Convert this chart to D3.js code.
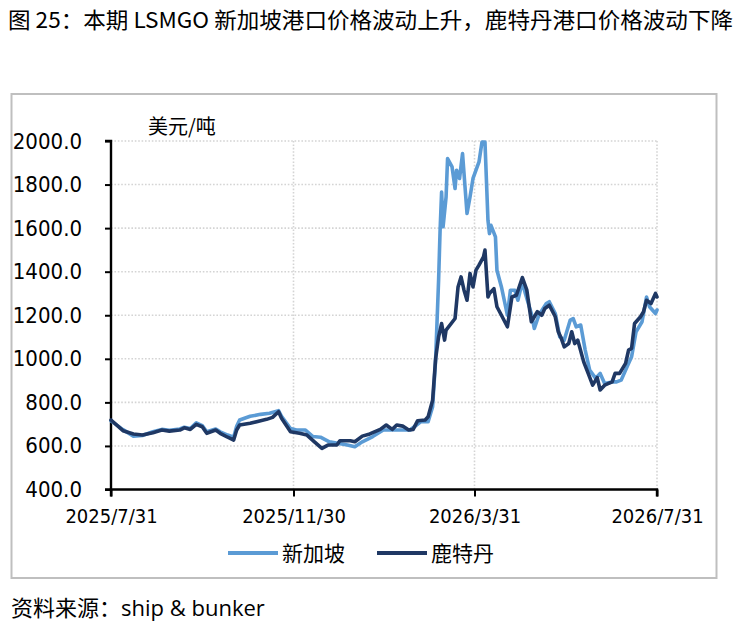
<!DOCTYPE html>
<html>
<head>
<meta charset="utf-8">
<script src="https://cdn.jsdelivr.net/npm/d3@7"></script>
<style>
  html,body{margin:0;padding:0;background:#fff;}
  svg{display:block;}
  .cjk{font-family:"Noto Sans CJK SC","Noto Sans",sans-serif;fill:#000;}
  .num{font-family:"Liberation Sans Narrow","DejaVu Sans Condensed","DejaVu Sans",sans-serif;font-stretch:condensed;fill:#000;}
  .src{font-family:"Open Sans","Noto Sans CJK SC",sans-serif;fill:#000;}
</style>
</head>
<body>
<svg id="chart" width="743" height="623"></svg>
<script>
// --- Data ---
const titleText = "图 25：本期 LSMGO 新加坡港口价格波动上升，鹿特丹港口价格波动下降";
const unitText = "美元/吨";
const sourceText = "资料来源：ship & bunker";
const seriesNames = ["新加坡", "鹿特丹"];
const seriesColors = ["#5b9bd5", "#1f3864"];

const xTicks = ["2025-07-31", "2025-11-30", "2026-03-31", "2026-07-31"];
const yTicks = [400, 600, 800, 1000, 1200, 1400, 1600, 1800, 2000];

// Singapore LSMGO
const sgDates = [
  "2025-07-31","2025-08-08","2025-08-15","2025-08-21","2025-08-28","2025-09-03","2025-09-08","2025-09-15",
  "2025-09-18","2025-09-22","2025-09-26","2025-09-30","2025-10-03","2025-10-09","2025-10-12","2025-10-17",
  "2025-10-21","2025-10-23","2025-10-25","2025-11-01","2025-11-08","2025-11-14","2025-11-20","2025-11-22",
  "2025-11-28","2025-12-02","2025-12-08","2025-12-13","2025-12-18","2025-12-24","2026-01-05","2026-01-10",
  "2026-01-15","2026-01-22","2026-01-29","2026-02-07","2026-02-16","2026-02-23","2026-02-28","2026-03-03",
  "2026-03-05","2026-03-07","2026-03-08","2026-03-09","2026-03-10","2026-03-12","2026-03-13","2026-03-16",
  "2026-03-18","2026-03-19","2026-03-21","2026-03-23","2026-03-26","2026-03-28","2026-03-30","2026-04-01",
  "2026-04-03","2026-04-05","2026-04-07","2026-04-09","2026-04-10","2026-04-11","2026-04-14","2026-04-15",
  "2026-04-18","2026-04-22","2026-04-24","2026-04-27","2026-04-29","2026-05-02","2026-05-04","2026-05-08",
  "2026-05-10","2026-05-13","2026-05-18","2026-05-20","2026-05-24","2026-05-27","2026-05-30","2026-06-03",
  "2026-06-05","2026-06-07","2026-06-10","2026-06-13","2026-06-16","2026-06-20","2026-06-23","2026-06-26",
  "2026-07-01","2026-07-04","2026-07-07","2026-07-11","2026-07-14","2026-07-17","2026-07-21","2026-07-24",
  "2026-07-26","2026-07-30","2026-07-31"
];
const sgValues = [
  715, 675, 645, 648, 665, 676, 672, 678,
  686, 680, 706, 693, 665, 678, 665, 650,
  640, 690, 719, 736, 745, 750, 762, 736,
  680, 673, 673, 643, 640, 619, 604, 596,
  619, 643, 673, 673, 673, 711, 711, 780,
  995, 1361, 1590, 1766, 1606, 1743, 1919, 1881,
  1782, 1866, 1828, 1942, 1667, 1743, 1828, 1866,
  1904, 1995, 1995, 1636, 1575, 1613, 1560, 1407,
  1330, 1200, 1315, 1315, 1269, 1353, 1300, 1208,
  1139, 1200, 1254, 1262, 1208, 1101, 1086, 1178,
  1185, 1147, 1155, 1040, 948, 910, 933, 887,
  894, 894, 902, 963, 1009, 1124, 1170, 1284,
  1239, 1208, 1224
];

// Rotterdam LSMGO
const rtDates = [
  "2025-07-31","2025-08-08","2025-08-15","2025-08-21","2025-08-28","2025-09-03","2025-09-08","2025-09-15",
  "2025-09-18","2025-09-22","2025-09-26","2025-09-30","2025-10-03","2025-10-09","2025-10-12","2025-10-17",
  "2025-10-21","2025-10-23","2025-10-25","2025-11-01","2025-11-08","2025-11-12","2025-11-16","2025-11-20",
  "2025-11-22","2025-11-28","2025-12-04","2025-12-09","2025-12-14","2025-12-19","2025-12-23","2025-12-29",
  "2025-12-31","2026-01-07","2026-01-10","2026-01-15","2026-01-20","2026-01-27","2026-01-31","2026-02-04",
  "2026-02-07","2026-02-11","2026-02-15","2026-02-18","2026-02-21","2026-02-26","2026-02-28","2026-03-03",
  "2026-03-05","2026-03-07","2026-03-09","2026-03-11","2026-03-12","2026-03-18","2026-03-20","2026-03-22",
  "2026-03-24","2026-03-26","2026-03-28","2026-03-30","2026-04-01","2026-04-03","2026-04-06","2026-04-07",
  "2026-04-09","2026-04-10","2026-04-13","2026-04-15","2026-04-18","2026-04-22","2026-04-25","2026-04-28",
  "2026-05-02","2026-05-05","2026-05-08","2026-05-12","2026-05-15","2026-05-17","2026-05-20","2026-05-24",
  "2026-05-26","2026-05-28","2026-05-30","2026-06-02","2026-06-04","2026-06-06","2026-06-08","2026-06-12",
  "2026-06-15","2026-06-18","2026-06-21","2026-06-23","2026-06-26","2026-07-01","2026-07-03","2026-07-06",
  "2026-07-10","2026-07-12","2026-07-14","2026-07-16","2026-07-20","2026-07-22","2026-07-24","2026-07-27",
  "2026-07-30","2026-07-31"
];
const rtValues = [
  719, 670, 655, 650, 661, 673, 668, 673,
  683, 676, 699, 688, 658, 673, 658, 640,
  627, 673, 696, 704, 716, 722, 731, 757,
  727, 665, 658, 650, 619, 589, 604, 604,
  624, 624, 619, 645, 655, 676, 696, 676,
  696, 691, 673, 676, 716, 719, 734, 810,
  1000, 1101, 1162, 1086, 1132, 1185, 1330, 1376,
  1315, 1269, 1392, 1330, 1407, 1430, 1468, 1499,
  1284, 1300, 1322, 1239, 1200, 1147, 1284, 1292,
  1373, 1315, 1170, 1216, 1200, 1231, 1246, 1193,
  1124, 1094, 1055, 1070, 1124, 1070, 1086, 986,
  933, 879, 914, 857, 879, 894, 933, 933,
  979, 1040, 1048, 1162, 1193, 1216, 1269, 1254,
  1300, 1284
];

// --- Layout ---
const svg = d3.select("#chart");
const W = 743, H = 623;
const P = {l:111, r:657, t:141, b:489.5};   // plot area
const parse = d3.utcParse("%Y-%m-%d");
const fmtDate = d3.utcFormat("%Y/%-m/%-d");

const x = d3.scaleUtc().domain([parse(xTicks[0]), parse(xTicks[xTicks.length-1])]).range([P.l, P.r]);
const y = d3.scaleLinear().domain([400, 2000]).range([P.b, P.t]);

// outer frame
svg.append("rect").attr("x", 11.5).attr("y", 94).attr("width", 705).attr("height", 484)
  .attr("fill", "none").attr("stroke", "#bfbfbf").attr("stroke-width", 2);

// title (fitted to the reference width)
svg.append("text").attr("class","cjk").attr("x", 8).attr("y", 28)
  .attr("textLength", 725).attr("lengthAdjust", "spacingAndGlyphs")
  .style("font-size","22px").text(titleText);

// grid
const grid = svg.append("g").attr("stroke", "#d4d4d4").attr("stroke-width", 1.6).attr("stroke-dasharray", "1.6,1.8");
grid.selectAll("line.h").data(yTicks.filter(v => v > 400)).enter().append("line").attr("class","h")
  .attr("x1", P.l).attr("x2", P.r + 1).attr("y1", d => y(d)).attr("y2", d => y(d));
grid.selectAll("line.v").data(xTicks.slice(1)).enter().append("line").attr("class","v")
  .attr("x1", d => x(parse(d))).attr("x2", d => x(parse(d))).attr("y1", P.t).attr("y2", P.b);

// axes
const gy = svg.append("g").attr("transform", `translate(${P.l},0)`)
  .call(d3.axisLeft(y).tickValues(yTicks).tickFormat(d3.format(".1f")).tickSize(6).tickPadding(23));
const gx = svg.append("g").attr("transform", `translate(0,${P.b})`)
  .call(d3.axisBottom(x).tickValues(xTicks.map(parse)).tickFormat(fmtDate).tickSize(7).tickPadding(12));
[gx, gy].forEach(g => {
  g.select(".domain").attr("stroke", "#000").attr("stroke-width", 2.4);
  g.selectAll(".tick line").attr("stroke", "#000").attr("stroke-width", 2);
  g.selectAll("text").attr("class","num").attr("fill","#000");
});
gy.selectAll("text").style("font-size","22px");
gx.selectAll("text").style("font-size","20px");
gy.select(".domain").attr("d", `M-6,${P.t}H0V${P.b}H-6`);
gx.select(".domain").attr("d", `M${P.l},7V0H${P.r}V7`);

// unit label
svg.append("text").attr("class","cjk").attr("x", 148).attr("y", 134)
  .style("font-size","20px").text(unitText);

// lines
const line = d3.line().x(d => x(d[0])).y(d => y(d[1]));
const sgData = sgDates.map((d,i) => [parse(d), sgValues[i]]);
const rtData = rtDates.map((d,i) => [parse(d), rtValues[i]]);
[sgData, rtData].forEach((data, i) => {
  svg.append("path").datum(data).attr("d", line)
    .attr("fill","none").attr("stroke", seriesColors[i]).attr("stroke-width", 3.6)
    .attr("stroke-linejoin","round").attr("stroke-linecap","round");
});

// legend
const legendX = [228, 377];
const leg = svg.append("g");
seriesNames.forEach((name, i) => {
  leg.append("line").attr("x1", legendX[i]).attr("x2", legendX[i] + 50)
    .attr("y1", 553).attr("y2", 553)
    .attr("stroke", seriesColors[i]).attr("stroke-width", 4);
  leg.append("text").attr("class","cjk").attr("x", legendX[i] + 54).attr("y", 561)
    .style("font-size","21px").text(name);
});

// source
svg.append("text").attr("class","src").attr("x", 11).attr("y", 616)
  .style("font-size","22px").text(sourceText);
</script>
</body>
</html>
